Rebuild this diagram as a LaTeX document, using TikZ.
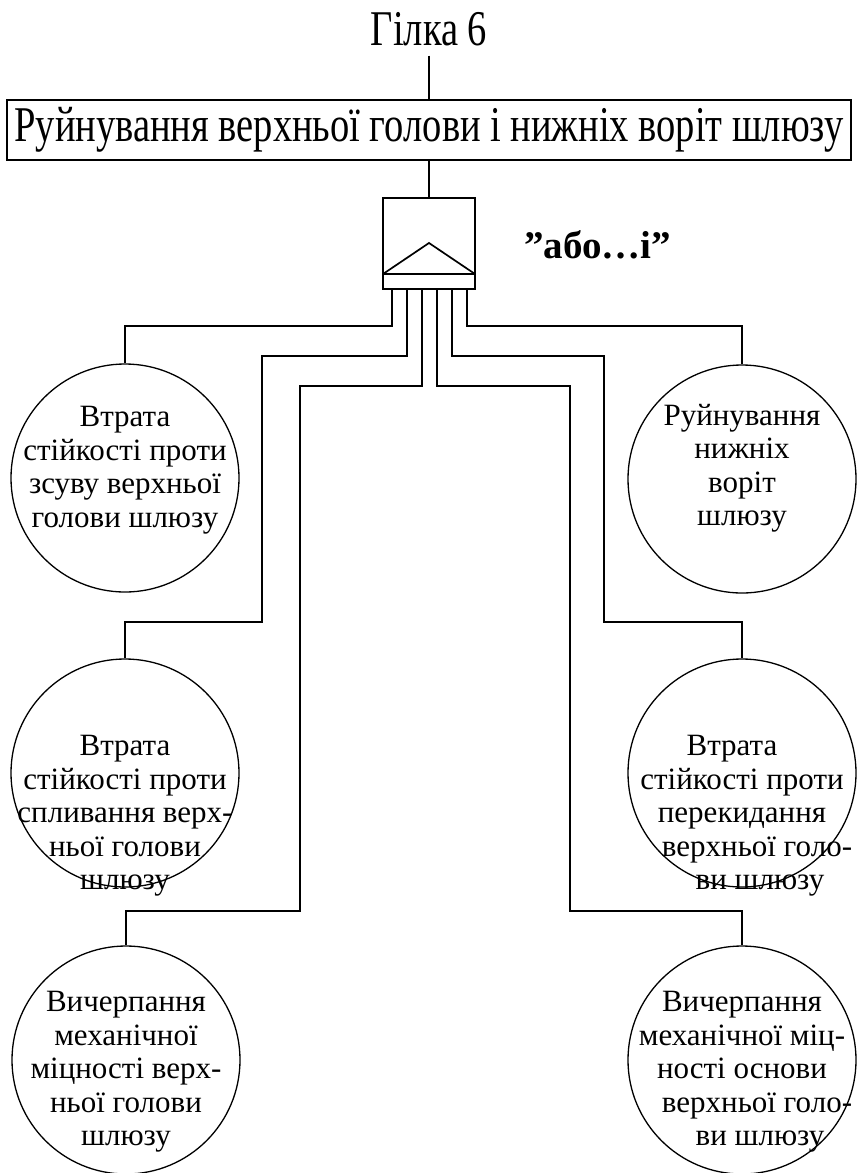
\documentclass[tikz,border=0pt]{standalone}
\usepackage{fontspec}
\setmainfont{Liberation Serif}
\usetikzlibrary{positioning}

% condensed lettering for the title and the top event
\newcommand{\narrowtext}[1]{\scalebox{0.77}[1]{\fontsize{50}{55}\selectfont #1}}

\begin{document}
\begin{tikzpicture}[x=1pt, y=-1pt,
    wire/.style={line width=1.7pt},
    topbox/.style={draw, line width=1.7pt, minimum width=844pt, minimum height=60pt, inner sep=0pt},
    event/.style={draw, circle, line width=1.3pt, minimum size=228pt, inner sep=0pt},
    eventtext/.style={align=center, font=\fontsize{31}{33.5}\selectfont, inner sep=0pt},
]
\useasboundingbox (0,0) rectangle (858,1173);

% branch title and top event
\node[inner xsep=0pt, inner ysep=10pt, anchor=base] (branch) at (429,45) {\narrowtext{Гілка 6}};
\node[topbox] (top) at (429,130) {\narrowtext{Руйнування верхньої голови і нижніх воріт шлюзу}};

% gate
\node[draw, line width=1.7pt, minimum width=92pt, minimum height=91pt, inner sep=0pt] (gate) at (429,243.5) {};
\draw[wire] (383,274) -- (475,274);
\draw[wire, line join=miter] (383,274) -- (429,243) -- (475,274);
\node[anchor=base west, inner sep=0pt, font=\bfseries\fontsize{39}{44}\selectfont] (rule) at (524,258) {”або…і”};

\foreach \i/\x in {1/392,2/407,3/422,4/437,5/452,6/467}
    \coordinate (o\i) at (\x,289);

% basic events
\node[event] (c1) at (125,478) {};
\node[event] (c2) at (742,479) {};
\node[event] (c3) at (125,773) {};
\node[event] (c4) at (742,773) {};
\node[event] (c5) at (126,1060) {};
\node[event] (c6) at (742,1060) {};

\node[eventtext] (t1) at (125,470) {Втрата\\стійкості проти\\зсуву верхньої\\голови шлюзу};
\node[eventtext] (t2) at (742,468) {Руйнування\\нижніх\\воріт\\шлюзу};
\node[eventtext] (t3) at (125,816) {Втрата\\стійкості проти\\спливання верх-\\ньої голови\hspace*{26pt}\\шлюзу};
\node[eventtext] (t4) at (742,816) {Втрата\hspace*{20pt}\\стійкості проти\\перекидання\\\hspace*{30pt}верхньої голо-\\\hspace*{36pt}ви шлюзу};
\node[eventtext] (t5) at (126,1072) {Вичерпання\\механічної\\міцності верх-\\ньої голови\\шлюзу};
\node[eventtext] (t6) at (742,1072) {Вичерпання\\механічної міц-\\ності основи\\\hspace*{30pt}верхньої голо-\\\hspace*{36pt}ви шлюзу};

% connections
\draw[wire] (branch.south) -- (top.north);
\draw[wire] (top.south) -- (gate.north);
\draw[wire] (o1) -- ++(0,37) -| (c1.north);
\draw[wire] (o6) -- ++(0,37) -| (c2.north);
\draw[wire] (o2) -- ++(0,67) -| (262,622) -| (c3.north);
\draw[wire] (o5) -- ++(0,67) -| (604,622) -| (c4.north);
\draw[wire] (o3) -- ++(0,97) -| (300,911) -| (c5.north);
\draw[wire] (o4) -- ++(0,97) -| (570,911) -| (c6.north);

\end{tikzpicture}
\end{document}
